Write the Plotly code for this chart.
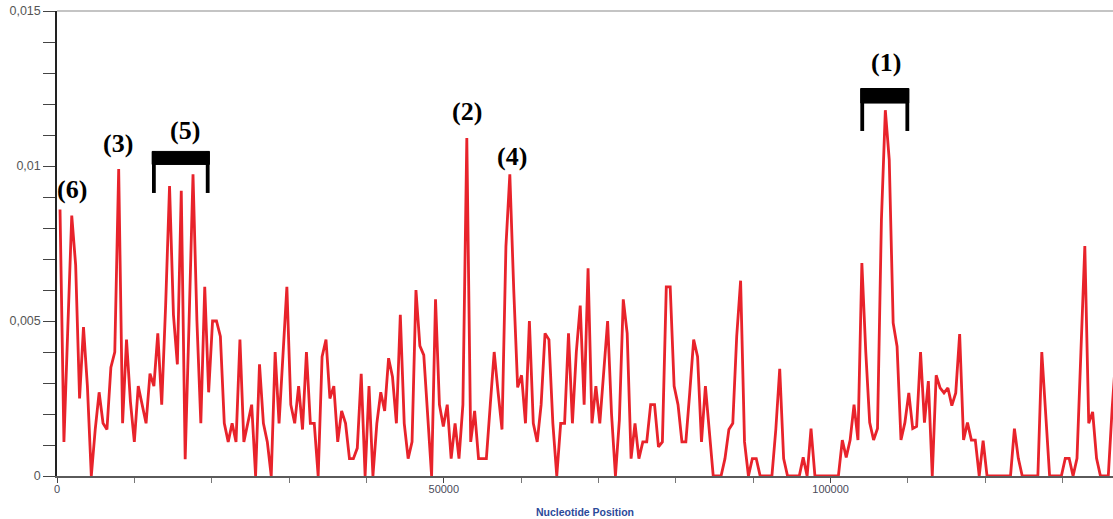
import numpy as np
import plotly.graph_objects as go

# ---- data (values in units of 1e-3) ----
first_position = 390
window_step = 505.6
values_permille = [
    8.6, 1.1, 4.8, 8.4, 6.8, 2.5, 4.8, 2.9, 0, 1.5,
    2.7, 1.7, 1.5, 3.5, 4.0, 9.9, 1.7, 4.4, 2.4, 1.1,
    2.9, 2.3, 1.7, 3.3, 2.9, 4.6, 2.3, 5.5, 9.35, 5.2,
    3.6, 9.2, 0.54, 5.0, 9.73, 5.0, 1.7, 6.1, 2.7, 5.0,
    5.0, 4.5, 1.7, 1.1, 1.7, 1.1, 4.4, 1.1, 1.7, 2.3,
    0, 3.6, 1.7, 1.1, 0, 4.0, 1.7, 3.9, 6.1, 2.3,
    1.7, 2.9, 1.5, 4.0, 1.7, 1.7, 0, 3.85, 4.4, 2.5,
    2.9, 1.1, 2.1, 1.7, 0.56, 0.56, 0.9, 3.3, 0, 2.9,
    0, 1.7, 2.7, 2.1, 3.8, 3.2, 1.7, 5.2, 1.7, 0.56,
    1.1, 6.0, 4.2, 3.9, 2.0, 0, 5.7, 2.3, 1.6, 2.3,
    0.56, 1.7, 0.56, 2.3, 10.9, 1.1, 2.1, 0.56, 0.56, 0.56,
    2.3, 4.0, 2.7, 1.5, 7.4, 9.73, 6.0, 2.86, 3.25, 1.7,
    5.0, 1.7, 1.1, 2.3, 4.6, 4.4, 1.7, 0, 1.7, 1.7,
    4.6, 1.7, 4.0, 5.5, 2.3, 6.7, 1.7, 2.9, 1.7, 3.3,
    5.0, 2.0, 0, 1.8, 5.7, 4.6, 0.56, 1.7, 0.56, 1.1,
    1.1, 2.3, 2.3, 0.94, 1.1, 6.1, 6.1, 2.9, 2.3, 1.1,
    1.1, 2.7, 4.4, 3.85, 1.1, 2.9, 1.3, 0, 0, 0,
    0.56, 1.5, 1.7, 4.5, 6.3, 1.1, 0, 0.56, 0.56, 0,
    0, 0, 0, 1.5, 3.46, 0.56, 0, 0, 0, 0,
    0.6, 0, 1.53, 0, 0, 0, 0, 0, 0, 0,
    1.16, 0.6, 1.16, 2.3, 1.16, 6.87, 4.0, 1.72, 1.16, 1.53,
    8.26, 11.8, 10.2, 4.94, 4.18, 1.16, 1.72, 2.68, 1.53, 1.6,
    4.0, 1.72, 3.06, 0, 3.25, 2.84, 2.68, 2.84, 2.27, 2.68,
    4.58, 1.16, 1.72, 1.16, 1.16, 0, 1.14, 0, 0, 0,
    0, 0, 0, 0, 1.53, 0.57, 0, 0, 0, 0,
    0, 4.0, 1.9, 0, 0, 0, 0, 0.57, 0.57, 0,
    0.57, 4.0, 7.42, 1.7, 2.07, 0.57, 0, 0, 0, 2.2,
    4.0,
]

label_texts = ["(6)", "(3)", "(5)", "(2)", "(4)", "(1)"]
label_x = [1940, 7885, 16550, 53000, 58820, 107165]
label_y = [0.00923, 0.01074, 0.01116, 0.01177, 0.01032, 0.013355]

bracket_x0 = [12300, 103900]
bracket_x1 = [19700, 110100]
bracket_top = [0.01047, 0.01250]
bracket_bar_bottom = [0.01005, 0.01203]
bracket_leg_bottom = [0.00913, 0.01113]

values = np.array(values_permille) / 1000.0
positions = first_position + window_step * np.arange(len(values))

fig = go.Figure()
fig.add_trace(go.Scatter(
    x=positions, y=values, mode="lines",
    line=dict(color="#E8232B", width=2.8),
    hoverinfo="skip", showlegend=False,
))

annotations = []
for t, x, y in zip(label_texts, label_x, label_y):
    annotations.append(dict(
        x=x, y=y, xref="x", yref="y", text="<b>%s</b>" % t, showarrow=False,
        font=dict(family="Liberation Serif", size=26, color="black"),
    ))

shapes = []
for x0, x1, yt, yb, yl in zip(bracket_x0, bracket_x1, bracket_top,
                              bracket_bar_bottom, bracket_leg_bottom):
    shapes.append(dict(type="rect", xref="x", yref="y", x0=x0, x1=x1, y0=yb, y1=yt,
                       fillcolor="black", line=dict(color="black", width=1)))
    inset = 0.03 * (x1 - x0)
    for xl in (x0 + inset, x1 - inset):
        shapes.append(dict(type="line", xref="x", yref="y", x0=xl, x1=xl, y0=yt, y1=yl,
                           line=dict(color="black", width=3.8)))
# top frame line
shapes.append(dict(type="line", xref="paper", yref="paper", x0=0, x1=1, y0=1, y1=1,
                   line=dict(color="#8a8a8a", width=1.2)))

fig.update_layout(
    width=1113, height=519,
    margin=dict(l=57, r=0, t=11, b=43, autoexpand=False),
    paper_bgcolor="white", plot_bgcolor="white",
    separators=",.",
    annotations=annotations, shapes=shapes,
    font=dict(family="Liberation Sans", size=11, color="#444"),
)
fig.update_xaxes(
    range=[0, 136500], showgrid=False, zeroline=False, automargin=False,
    showline=True, linecolor="#5a5a5a", linewidth=2,
    ticks="outside", ticklen=5, tickcolor="#444", tickwidth=1,
    tick0=0, dtick=50000, tickformat="d", ticklabelstandoff=-3,
    minor=dict(ticks="outside", ticklen=5, tickcolor="#777", dtick=10000, tick0=0, showgrid=False),
    tickfont=dict(family="Liberation Sans", size=11, color="#4a4a5a"),
    title=dict(text="<b>Nucleotide Position</b>",
               font=dict(family="Liberation Sans", size=10.5, color="#2B4A9A"), standoff=14),
    layer="below traces",
)
fig.update_yaxes(
    range=[0, 0.015], showgrid=False, zeroline=False, automargin=False,
    showline=True, linecolor="#222", linewidth=1.5,
    ticks="outside", ticklen=12, tickcolor="#444", tickwidth=1,
    tick0=0, dtick=0.005,
    minor=dict(ticks="outside", ticklen=12, tickcolor="#444", dtick=0.001, tick0=0, showgrid=False),
    tickfont=dict(family="Liberation Sans", size=12.5, color="#555"),
    layer="below traces",
)

fig.write_html(
    "out.html",
    config={"displayModeBar": False},
    post_script="document.body.style.margin='0px'; document.body.style.overflow='hidden';",
)
